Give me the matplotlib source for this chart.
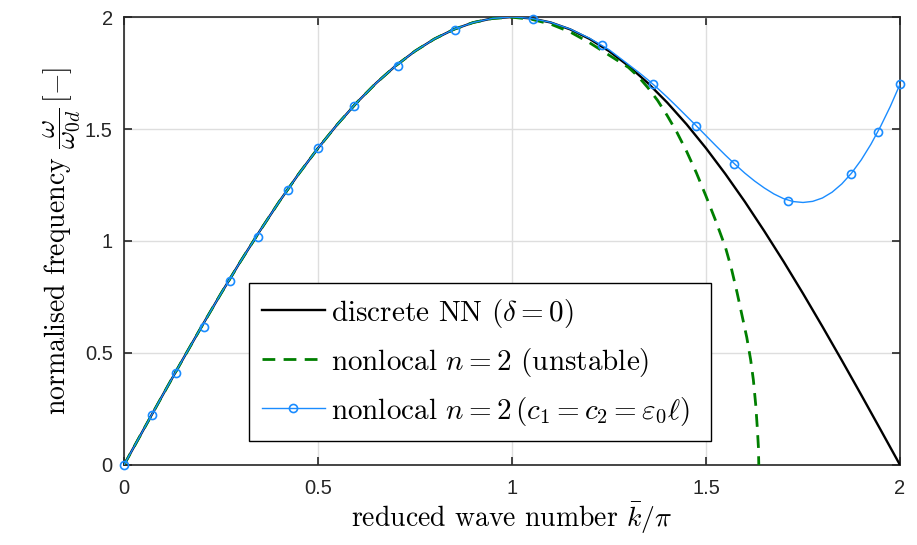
import matplotlib
matplotlib.use("Agg")
import matplotlib.pyplot as plt
from matplotlib.lines import Line2D

plt.rcParams["mathtext.fontset"] = "cm"
plt.rcParams["font.family"] = ["cmr10", "DejaVu Serif"]
plt.rcParams["axes.formatter.use_mathtext"] = True

# discrete nearest-neighbour dispersion
k_nn = [0.00, 0.05, 0.10, 0.15, 0.20, 0.25, 0.30, 0.35, 0.40, 0.45, 0.50,
        0.55, 0.60, 0.65, 0.70, 0.75, 0.80, 0.85, 0.90, 0.95, 1.00,
        1.05, 1.10, 1.15, 1.20, 1.25, 1.30, 1.35, 1.40, 1.45, 1.50,
        1.55, 1.60, 1.65, 1.70, 1.75, 1.80, 1.85, 1.90, 1.95, 2.00]
w_nn = [0.0000, 0.1569, 0.3129, 0.4669, 0.6180, 0.7654, 0.9080, 1.0446, 1.1756, 1.2989, 1.4142,
        1.5208, 1.6180, 1.7053, 1.7820, 1.8478, 1.9021, 1.9447, 1.9754, 1.9938, 2.0000,
        1.9938, 1.9754, 1.9447, 1.9021, 1.8478, 1.7820, 1.7053, 1.6180, 1.5208, 1.4142,
        1.2989, 1.1756, 1.0446, 0.9080, 0.7654, 0.6180, 0.4669, 0.3129, 0.1569, 0.0000]

# nonlocal n = 2, unstable parameter set
k_unst = [0.00, 0.05, 0.10, 0.15, 0.20, 0.25, 0.30, 0.35, 0.40, 0.45, 0.50,
          0.55, 0.60, 0.65, 0.70, 0.75, 0.80, 0.85, 0.90, 0.95, 1.00,
          1.05, 1.10, 1.15, 1.20, 1.25, 1.30, 1.325, 1.35, 1.375, 1.40,
          1.425, 1.45, 1.475, 1.50, 1.525, 1.55, 1.565, 1.58, 1.595, 1.605,
          1.615, 1.622, 1.628, 1.632, 1.635, 1.636]
w_unst = [0.0000, 0.1569, 0.3129, 0.4669, 0.6180, 0.7654, 0.9080, 1.0446, 1.1756, 1.2989, 1.4142,
          1.5208, 1.6180, 1.7053, 1.7820, 1.8478, 1.9021, 1.9447, 1.9754, 1.9935, 1.9990,
          1.9900, 1.9680, 1.9330, 1.8850, 1.8300, 1.7750, 1.7350, 1.6850, 1.6280, 1.5600,
          1.4850, 1.4000, 1.3050, 1.2000, 1.0900, 0.9720, 0.8800, 0.7700, 0.6500, 0.5700,
          0.4700, 0.3800, 0.2700, 0.1700, 0.0800, 0.0000]

# nonlocal n = 2 with c1 = c2 = eps0*l
k_stab = [0.00, 0.05, 0.10, 0.15, 0.20, 0.25, 0.30, 0.35, 0.40, 0.45, 0.50,
          0.55, 0.60, 0.65, 0.70, 0.75, 0.80, 0.85, 0.90, 0.95, 1.00,
          1.05, 1.10, 1.15, 1.20, 1.25, 1.300, 1.325, 1.350, 1.375, 1.400,
          1.425, 1.450, 1.475, 1.500, 1.525, 1.550, 1.575, 1.600, 1.625, 1.650,
          1.675, 1.700, 1.725, 1.750, 1.775, 1.800, 1.825, 1.850, 1.875, 1.900,
          1.925, 1.950, 1.975, 2.000]
w_stab = [0.0000, 0.1569, 0.3129, 0.4669, 0.6180, 0.7654, 0.9080, 1.0446, 1.1756, 1.2989, 1.4142,
          1.5208, 1.6180, 1.7053, 1.7820, 1.8478, 1.9021, 1.9447, 1.9754, 1.9938, 2.0000,
          1.9940, 1.9760, 1.9460, 1.9050, 1.8540, 1.788, 1.755, 1.720, 1.682, 1.642,
          1.600, 1.557, 1.514, 1.470, 1.426, 1.383, 1.342, 1.303, 1.268, 1.237,
          1.210, 1.189, 1.176, 1.172, 1.177, 1.192, 1.218, 1.255, 1.303, 1.362,
          1.432, 1.512, 1.601, 1.700]
k_mark = [0.000, 0.072, 0.134, 0.206, 0.274, 0.346, 0.423, 0.501, 0.594, 0.705,
          0.852, 1.053, 1.231, 1.363, 1.474, 1.573, 1.712, 1.873, 1.943, 2.000]
w_mark = [0.000, 0.222, 0.412, 0.618, 0.821, 1.020, 1.228, 1.415, 1.603, 1.781,
          1.942, 1.993, 1.875, 1.701, 1.515, 1.342, 1.179, 1.301, 1.485, 1.700]

x_ticks = [0, 0.5, 1, 1.5, 2]
y_ticks = [0, 0.5, 1, 1.5, 2]
tick_labels = ["0", "0.5", "1", "1.5", "2"]

labels = [r"discrete NN ($\delta=0$)",
          r"nonlocal $n=2$ (unstable)",
          r"nonlocal $n=2\,(c_1=c_2=\varepsilon_0\ell)$"]

c_black = "black"
c_green = "#007f00"
c_blue = "#1a8cff"
c_axis = "#262626"

fig = plt.figure(figsize=(9.17, 5.45), dpi=100)
ax = fig.add_axes([0.1352, 0.1468, 0.8463, 0.822])

ax.plot(k_nn, w_nn, color=c_black, lw=1.7, zorder=3)
ax.plot(k_unst, w_unst, color=c_green, lw=2.0, ls=(0, (4.6, 3.0)), zorder=3)
ax.plot(k_stab, w_stab, color=c_blue, lw=1.0, zorder=4)
ax.plot(k_mark, w_mark, ls="none", marker="o", ms=5.8, mfc="none",
        mec=c_blue, mew=1.2, zorder=5, clip_on=False)

ax.set_xlim(0, 2)
ax.set_ylim(0, 2)
ax.set_xticks(x_ticks)
ax.set_yticks(y_ticks)
ax.set_xticklabels(tick_labels)
ax.set_yticklabels(tick_labels)
ax.grid(True, color="#dedede", lw=1.0)
ax.set_axisbelow(True)
for s in ax.spines.values():
    s.set_color(c_axis)
    s.set_linewidth(1.2)
ax.tick_params(direction="in", length=6, width=1.2, color=c_axis,
               top=True, right=True, labelsize=14.5, labelcolor=c_axis,
               labelfontfamily="Liberation Sans")
ax.tick_params(axis="x", pad=10)
ax.tick_params(axis="y", pad=8)

ax.set_xlabel(r"reduced wave number $\bar{k}/\pi$", fontsize=20, labelpad=2)
ax.set_ylabel(r"normalised frequency $\dfrac{\omega}{\omega_{0d}}\,[-]$",
              fontsize=20, labelpad=2)

handles = [Line2D([], [], color=c_black, lw=1.7),
           Line2D([], [], color=c_green, lw=2.0, ls=(0, (4.6, 3.0))),
           Line2D([], [], color=c_blue, lw=1.0, marker="o", ms=5.8,
                  mfc="none", mew=1.2)]
leg = ax.legend(handles, labels, loc="lower left",
                bbox_to_anchor=(0.161, 0.054, 0.596, 0.361), mode="expand",
                fontsize=21, frameon=True, fancybox=False, framealpha=1,
                edgecolor="black", handlelength=2.15, handletextpad=0.2,
                labelspacing=0.55, borderpad=0.45, borderaxespad=0.0)
leg.get_frame().set_linewidth(1.0)

fig.savefig("out.png", dpi=100)
